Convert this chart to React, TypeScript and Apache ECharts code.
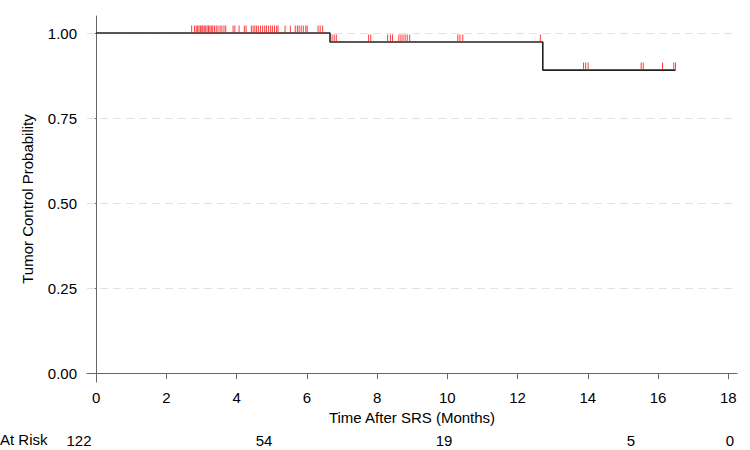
import React, { useEffect, useRef } from "react";
import * as echarts from "echarts";

// Kaplan-Meier steps (time in months, survival after the step)
const stepTimes = [0, 6.66, 12.72, 16.5];
const stepSurvival = [1.0, 0.9735, 0.891, 0.891];

// Censored observation times (months)
const censorTimes = [
  2.72, 2.8, 2.85, 2.89, 2.93, 2.97, 3.01, 3.04, 3.08, 3.12, 3.16, 3.2, 3.24, 3.28,
  3.32, 3.37, 3.42, 3.47, 3.53, 3.58, 3.64, 3.69, 3.9, 3.95, 4.07, 4.22, 4.27,
  4.42, 4.47, 4.52, 4.57, 4.62, 4.68, 4.74, 4.8, 4.85, 4.91, 4.97, 5.02, 5.08,
  5.14, 5.18, 5.38, 5.53, 5.67, 5.73, 5.78, 5.84, 5.9, 5.97, 6.01, 6.32, 6.38,
  6.45, 6.72, 6.78, 6.84, 7.76, 7.82, 8.3, 8.38, 8.44, 8.62, 8.68, 8.74, 8.8,
  8.86, 8.93, 10.3, 10.36, 10.44, 12.65, 13.88, 13.94, 14.01, 15.52, 15.58,
  16.13, 16.45, 16.5,
];

const xTicks = [0, 2, 4, 6, 8, 10, 12, 14, 16, 18];
const yTicks = [0, 0.25, 0.5, 0.75, 1.0];
const gridLevels = [0.25, 0.5, 0.75, 1.0];

const riskLabel = "At Risk";
const riskCounts = ["122", "54", "19", "5", "0"];
const riskX = [79, 264, 444, 631, 730];

const FONT = "'Liberation Sans', Arial, Helvetica, sans-serif";

function survivalAt(t: number): number {
  let s = 1;
  for (let i = 0; i < stepTimes.length; i++) {
    if (t >= stepTimes[i]) s = stepSurvival[i];
  }
  return s;
}

export default function App() {
  const ref = useRef<HTMLDivElement>(null);
  useEffect(() => {
    if (!ref.current) return;
    const chart = echarts.init(ref.current, undefined, { renderer: "svg" });
    const kmData = stepTimes.map((t, i) => [t, stepSurvival[i]]);
    const censorData = censorTimes.map((t) => [t, survivalAt(t)]);
    chart.setOption({
      animation: false,
      textStyle: { fontFamily: FONT },
      grid: { left: 87, right: 13, top: 16, bottom: 68, containLabel: false },
      xAxis: {
        type: "value",
        min: -0.26,
        max: 18.25,
        name: "Time After SRS (Months)",
        nameLocation: "middle",
        nameGap: 26,
        nameTextStyle: { fontSize: 15, color: "#000", fontFamily: FONT },
        axisLine: { show: true, lineStyle: { color: "#666", width: 1 } },
        axisTick: { show: true, length: 6, customValues: xTicks, lineStyle: { color: "#666" } },
        axisLabel: { customValues: xTicks, fontSize: 15, color: "#000", margin: 8, fontFamily: FONT },
        splitLine: { show: false },
      },
      yAxis: {
        type: "value",
        min: -0.026,
        max: 1.05,
        name: "Tumor Control Probability",
        nameLocation: "middle",
        nameGap: 52,
        nameTextStyle: { fontSize: 15, color: "#000", fontFamily: FONT },
        axisLine: { show: true, lineStyle: { color: "#666", width: 1 } },
        axisTick: { show: true, length: 6, customValues: yTicks, lineStyle: { color: "#666" } },
        axisLabel: {
          customValues: yTicks,
          fontSize: 15,
          color: "#000",
          margin: 10,
          fontFamily: FONT,
          formatter: (v: number) => v.toFixed(2),
        },
        splitLine: { show: false },
      },
      series: [
        {
          type: "line",
          data: kmData,
          step: "end",
          symbol: "none",
          lineStyle: { color: "#222", width: 1.6 },
          z: 3,
          markLine: {
            silent: true,
            symbol: "none",
            label: { show: false },
            lineStyle: { color: "#e3e3e3", width: 1, type: [8, 5] },
            data: gridLevels.map((v) => ({ yAxis: v })),
            z: 1,
          },
        },
        {
          type: "scatter",
          data: censorData,
          symbol: "rect",
          symbolSize: [1, 7],
          symbolOffset: [0, -4],
          itemStyle: { color: "#ff1a1a", opacity: 0.85 },
          z: 4,
        },
      ],
      graphic: [
        {
          type: "text",
          left: 0,
          top: 432,
          style: { text: riskLabel, fontSize: 15, fill: "#000", fontFamily: FONT },
        },
        ...riskCounts.map((c, i) => ({
          type: "text",
          x: riskX[i],
          y: 440,
          style: {
            text: c,
            fontSize: 15,
            fill: "#000",
            fontFamily: FONT,
            align: "center",
            verticalAlign: "middle",
          },
        })),
      ],
    });
    return () => chart.dispose();
  }, []);
  return (
    <div
      ref={ref}
      style={{ position: "absolute", left: 0, top: 0, width: 750, height: 450, background: "#fff" }}
    />
  );
}
